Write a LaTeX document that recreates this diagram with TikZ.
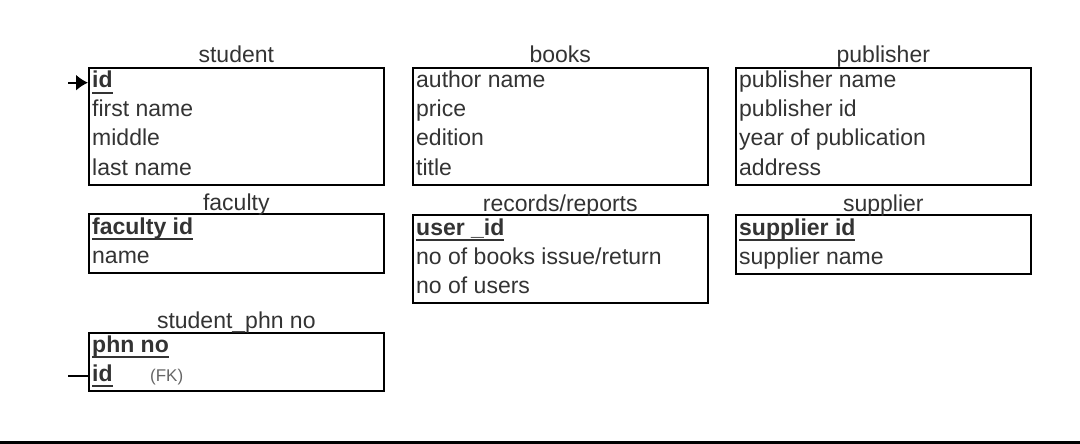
\documentclass[tikz,border=0pt]{standalone}
\usepackage{fontspec}
\setmainfont{Liberation Sans}
\usetikzlibrary{positioning, arrows.meta}
\definecolor{txtgray}{rgb}{0.2, 0.2, 0.2}
\newcommand{\keyattr}[1]{\sbox0{\bfseries #1}\rlap{\rule[-6pt]{\wd0}{1.6pt}}\usebox0}

\begin{document}
\begin{tikzpicture}[x=1pt, y=-1pt,
    entity/.style={draw, line width=1.6pt, minimum width=295pt, inner sep=0pt, anchor=north west},
    title/.style={anchor=base, inner sep=0pt, txtgray, font=\fontsize{23}{27}\selectfont},
    attr/.style={anchor=base west, inner sep=0pt, txtgray, font=\fontsize{23}{27}\selectfont},
    note/.style={anchor=base west, inner sep=0pt, black!60, font=\fontsize{17}{20}\selectfont},
    link/.style={line width=1.8pt}]

    \useasboundingbox (0,0) rectangle (1080,444);
    \fill[black] (0,441) rectangle (1080,444);

    % entity boxes
    \node[entity, minimum height=117pt] (student) at (88,67) {};
    \node[entity, minimum height=117pt] (books) at (412,67) {};
    \node[entity, minimum height=117pt] (publisher) at (735,67) {};
    \node[entity, minimum height=59pt] (faculty) at (88,213) {};
    \node[entity, minimum height=88pt] (records) at (412,214) {};
    \node[entity, minimum height=59pt] (supplier) at (735,214) {};
    \node[entity, minimum height=58pt] (phn) at (88,332) {};

    % entity names
    \node[title] (studenttitle) at ([yshift=4pt]student.north) {student};
    \node[title] (bookstitle) at ([yshift=4pt]books.north) {books};
    \node[title] (publishertitle) at ([yshift=4pt]publisher.north) {publisher};
    \node[title] (facultytitle) at ([yshift=3pt]faculty.north) {faculty};
    \node[title] (recordstitle) at ([yshift=3pt]records.north) {records/reports};
    \node[title] (suppliertitle) at ([yshift=3pt]supplier.north) {supplier};
    \node[title] (phntitle) at ([yshift=4pt]phn.north) {student\_phn no};

    % student
    \node[attr] (stuid) at ([xshift=4pt, yshift=-21pt]student.north west) {\keyattr{id}};
    \node[attr] (stufirst) at ([yshift=-29pt]stuid.base west) {first name};
    \node[attr] (stumiddle) at ([yshift=-29pt]stufirst.base west) {middle};
    \node[attr] (stulast) at ([yshift=-29pt]stumiddle.base west) {last name};

    % books
    \node[attr] (bkauthor) at ([xshift=4pt, yshift=-21pt]books.north west) {author name};
    \node[attr] (bkprice) at ([yshift=-29pt]bkauthor.base west) {price};
    \node[attr] (bkedition) at ([yshift=-29pt]bkprice.base west) {edition};
    \node[attr] (bktitle) at ([yshift=-29pt]bkedition.base west) {title};

    % publisher
    \node[attr] (pubname) at ([xshift=4pt, yshift=-21pt]publisher.north west) {publisher name};
    \node[attr] (pubid) at ([yshift=-29pt]pubname.base west) {publisher id};
    \node[attr] (pubyear) at ([yshift=-29pt]pubid.base west) {year of publication};
    \node[attr] (pubaddr) at ([yshift=-29pt]pubyear.base west) {address};

    % faculty
    \node[attr] (facid) at ([xshift=4pt, yshift=-21pt]faculty.north west) {\keyattr{faculty id}};
    \node[attr] (facname) at ([yshift=-29pt]facid.base west) {name};

    % records/reports
    \node[attr] (recuser) at ([xshift=4pt, yshift=-21pt]records.north west) {\keyattr{user \_id}};
    \node[attr] (recbooks) at ([yshift=-29pt]recuser.base west) {no of books issue/return};
    \node[attr] (recusers) at ([yshift=-29pt]recbooks.base west) {no of users};

    % supplier
    \node[attr] (supid) at ([xshift=4pt, yshift=-21pt]supplier.north west) {\keyattr{supplier id}};
    \node[attr] (supname) at ([yshift=-29pt]supid.base west) {supplier name};

    % student_phn no
    \node[attr] (phnno) at ([xshift=4pt, yshift=-20pt]phn.north west) {\keyattr{phn no}};
    \node[attr] (phnid) at ([yshift=-29pt]phnno.base west) {\keyattr{id}};
    \node[note] (phnfk) at ([xshift=58pt]phnid.base west) {(FK)};

    % connector ends
    \coordinate (stuin) at ([xshift=-20pt]stuid.west -| student.west);
    \coordinate (phnout) at ([xshift=-20pt]phnid.west -| phn.west);
    \draw[link, -{Latex[length=12pt, width=16pt]}] (stuin) -- (stuid.west -| student.west);
    \draw[link] (phnout) -- (phnid.west -| phn.west);
\end{tikzpicture}
\end{document}
